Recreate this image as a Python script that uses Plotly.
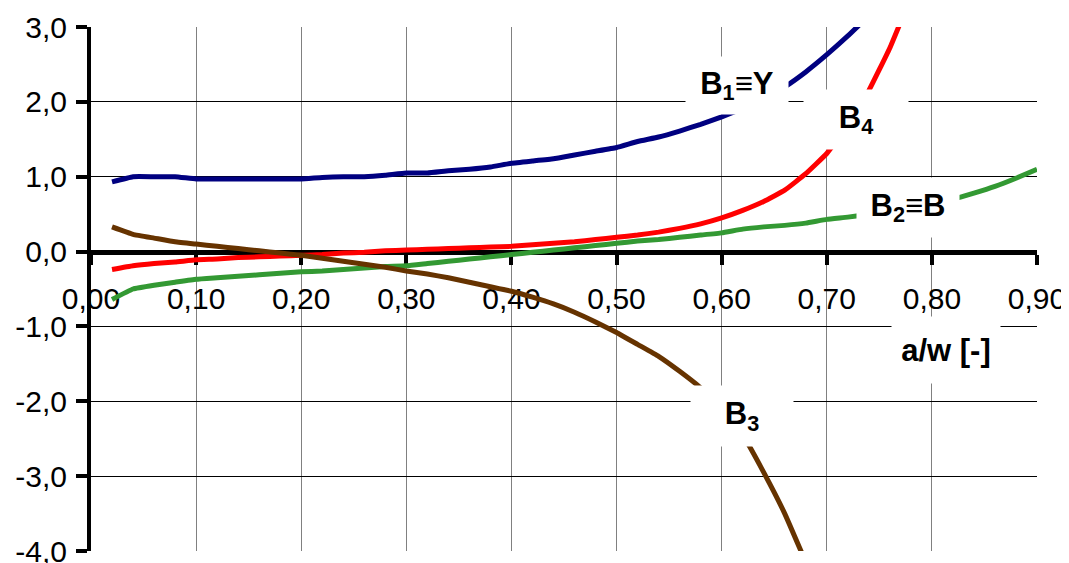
import plotly.graph_objects as go

# ---- data ----
x_b1 = [0.02, 0.04, 0.06, 0.08, 0.10, 0.12, 0.14, 0.16, 0.18, 0.20, 0.22, 0.24, 0.26, 0.28, 0.30,
        0.32, 0.34, 0.36, 0.38, 0.40, 0.42, 0.44, 0.46, 0.48, 0.50, 0.52, 0.54, 0.56, 0.58, 0.60,
        0.62, 0.64, 0.66, 0.68, 0.70, 0.72, 0.74]
b1 = [0.93, 1.00, 1.00, 1.00, 0.97, 0.97, 0.97, 0.97, 0.97, 0.97, 0.99, 1.00, 1.00, 1.02, 1.05,
      1.05, 1.08, 1.10, 1.13, 1.18, 1.21, 1.24, 1.29, 1.34, 1.39, 1.47, 1.53, 1.61, 1.70, 1.80,
      1.91, 2.04, 2.20, 2.40, 2.63, 2.88, 3.15]

x_b4 = [0.02, 0.04, 0.06, 0.08, 0.10, 0.12, 0.14, 0.16, 0.18, 0.20, 0.22, 0.24, 0.26, 0.28, 0.30,
        0.32, 0.34, 0.36, 0.38, 0.40, 0.42, 0.44, 0.46, 0.48, 0.50, 0.52, 0.54, 0.56, 0.58, 0.60,
        0.62, 0.64, 0.66, 0.68, 0.70, 0.72, 0.74, 0.76, 0.78]
b4 = [-0.24, -0.19, -0.16, -0.14, -0.11, -0.10, -0.08, -0.07, -0.06, -0.05, -0.04, -0.02, -0.01, 0.01, 0.02,
      0.03, 0.04, 0.05, 0.06, 0.07, 0.09, 0.11, 0.13, 0.16, 0.19, 0.22, 0.26, 0.31, 0.37, 0.45,
      0.55, 0.67, 0.82, 1.04, 1.31, 1.68, 2.15, 2.72, 3.40]

x_b2 = [0.02, 0.04, 0.06, 0.08, 0.10, 0.12, 0.14, 0.16, 0.18, 0.20, 0.22, 0.24, 0.26, 0.28, 0.30,
        0.32, 0.34, 0.36, 0.38, 0.40, 0.42, 0.44, 0.46, 0.48, 0.50, 0.52, 0.54, 0.56, 0.58, 0.60,
        0.62, 0.64, 0.66, 0.68, 0.70, 0.72, 0.74, 0.76, 0.78, 0.80, 0.82, 0.84, 0.86, 0.88, 0.90]
b2 = [-0.64, -0.50, -0.45, -0.41, -0.37, -0.35, -0.33, -0.31, -0.29, -0.27, -0.26, -0.24, -0.22, -0.20, -0.19,
      -0.16, -0.13, -0.10, -0.07, -0.04, -0.01, 0.02, 0.05, 0.08, 0.11, 0.14, 0.16, 0.19, 0.22, 0.25,
      0.30, 0.33, 0.35, 0.38, 0.43, 0.46, 0.50, 0.54, 0.58, 0.64, 0.70, 0.78, 0.87, 0.98, 1.10]

x_b3 = [0.02, 0.04, 0.06, 0.08, 0.10, 0.12, 0.14, 0.16, 0.18, 0.20, 0.22, 0.24, 0.26, 0.28, 0.30,
        0.32, 0.34, 0.36, 0.38, 0.40, 0.42, 0.44, 0.46, 0.48, 0.50, 0.52, 0.54, 0.56, 0.58, 0.60,
        0.62, 0.64, 0.66, 0.68]
b3 = [0.33, 0.23, 0.18, 0.13, 0.10, 0.07, 0.04, 0.01, -0.02, -0.05, -0.09, -0.13, -0.17, -0.21, -0.26,
      -0.30, -0.35, -0.41, -0.47, -0.53, -0.61, -0.70, -0.81, -0.94, -1.08, -1.24, -1.40, -1.60, -1.82, -2.08,
      -2.45, -2.95, -3.50, -4.15]

x_ticks = [0.00, 0.10, 0.20, 0.30, 0.40, 0.50, 0.60, 0.70, 0.80, 0.90]
x_tick_text = ["0,00", "0,10", "0,20", "0,30", "0,40", "0,50", "0,60", "0,70", "0,80", "0,90"]
y_ticks = [3, 2, 1, 0, -1, -2, -3, -4]
y_tick_text = ["3,0", "2,0", "1,0", "0,0", "-1,0", "-2,0", "-3,0", "-4,0"]

series = [
    ("B1", x_b1, b1, "#000080"),
    ("B4", x_b4, b4, "#FF0000"),
    ("B2", x_b2, b2, "#339933"),
    ("B3", x_b3, b3, "#663300"),
]

labels = [
    ("B<sub>1</sub>≡Y", 0.615, 2.22, 100, 55),
    ("B<sub>4</sub>", 0.728, 1.77, 102, 57),
    ("B<sub>2</sub>≡B", 0.777, 0.59, 100, 57),
    ("B<sub>3</sub>", 0.619, -2.20, 100, 58),
    ("a/w [-]", 0.8135, -1.32, 106, 64),
]

FONT = "Liberation Sans, Arial, sans-serif"

fig = go.Figure()
for name, xs, ys, col in series:
    fig.add_trace(go.Scatter(x=xs, y=ys, mode="lines", name=name,
                             line=dict(color=col, width=5, shape="spline", smoothing=0.3),
                             hoverinfo="skip"))

for txt, lx, ly, w, h in labels:
    fig.add_annotation(x=lx, y=ly, xref="x", yref="y", text=txt, showarrow=False,
                       font=dict(family=FONT, size=31, color="black", weight="bold"),
                       bgcolor="white", width=w, height=h, align="center", valign="middle")

fig.update_layout(
    width=1069, height=563,
    margin=dict(l=83, r=40, t=19, b=20, autoexpand=False),
    paper_bgcolor="white", plot_bgcolor="white",
    showlegend=False,
    font=dict(family=FONT, size=30, color="black"),
    xaxis=dict(range=[0, 0.9], tickmode="array", tickvals=x_ticks, ticktext=x_tick_text,
               anchor="free", position=4 / 7, showline=True, linecolor="black", linewidth=5,
               ticks="outside", ticklen=10, tickwidth=4, tickcolor="black",
               showgrid=True, gridcolor="#808080", gridwidth=1, zeroline=False,
               layer="below traces", ticklabelstandoff=8, automargin=False,
               tickfont=dict(family=FONT, size=30, color="black")),
    yaxis=dict(range=[-4, 3], tickmode="array", tickvals=y_ticks, ticktext=y_tick_text,
               showline=True, linecolor="black", linewidth=4,
               ticks="outside", ticklen=11, tickwidth=4, tickcolor="black",
               showgrid=True, gridcolor="black", gridwidth=1, zeroline=False,
               layer="below traces", ticklabelstandoff=3, automargin=False,
               tickfont=dict(family=FONT, size=30, color="black")),
)

fig.write_html("out.html")
